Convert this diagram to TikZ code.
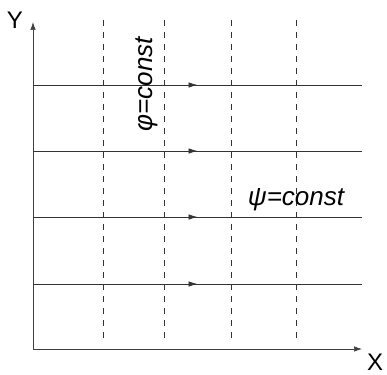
\documentclass[tikz,border=0pt]{standalone}
\usepackage{fontspec}
\setmainfont{Liberation Sans}
\usetikzlibrary{arrows.meta,decorations.markings}
\begin{document}
\begin{tikzpicture}[x=1pt,y=-1pt,
  axis/.style={line width=0.7pt,draw=black!75,-{Latex[length=8pt,width=5.5pt]}},
  grid/.style={line width=0.6pt,draw=black!80,dash pattern=on 6pt off 6pt},
  flow/.style={line width=0.7pt,draw=black!80,postaction={decorate},
    decoration={markings,mark=at position 0.5 with {\arrow{Latex[length=9pt,width=5.5pt]}}}},
  lbl/.style={font=\itshape\fontsize{26}{26}\selectfont,inner sep=0pt},
  axlbl/.style={font=\fontsize{24}{24}\selectfont,inner sep=0pt}]
\useasboundingbox (0,0) rectangle (387,374);
\coordinate (O) at (33,349);
\coordinate (Ytip) at (33,22);
\coordinate (Xtip) at (362,349);
\draw[axis] (O) -- (Ytip);
\draw[axis] (O) -- (Xtip);
\node[axlbl] (Ylab) at (15,20) {Y};
\node[axlbl] (Xlab) at (375,362) {X};
\foreach \x [count=\i] in {103,164,231,296}{
  \coordinate (dt\i) at (\x,20);
  \coordinate (db\i) at (\x,342);
  \draw[grid] (dt\i) -- (db\i);
}
\foreach \y [count=\i] in {85,151,217,284}{
  \coordinate (hl\i) at (33,\y);
  \coordinate (hr\i) at (362,\y);
  \draw[flow] (hl\i) -- (hr\i);
}
\node[lbl,rotate=90] (phi) at (147,84) {φ=const};
\node[lbl] (psi) at (296,200) {ψ=const};
\end{tikzpicture}
\end{document}
